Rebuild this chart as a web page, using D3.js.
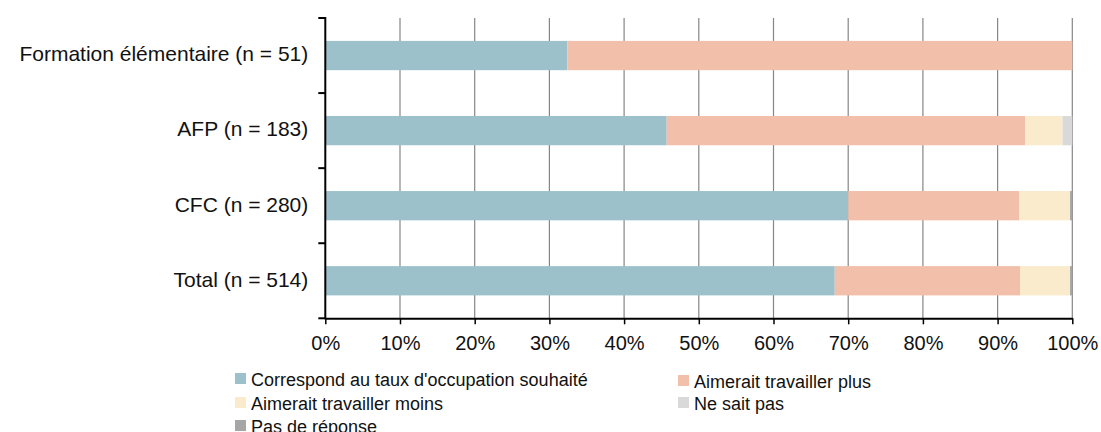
<!DOCTYPE html>
<html>
<head>
<meta charset="utf-8">
<script src="https://cdn.jsdelivr.net/npm/d3@7"></script>
<style>
  html, body { margin: 0; padding: 0; background: #fff; }
  svg { display: block; font-family: "Liberation Sans", Arial, sans-serif; }
</style>
</head>
<body>
<svg id="chart" width="1101" height="432"></svg>
<script>
// ---- data ----
const categories = ["Formation élémentaire (n = 51)", "AFP (n = 183)", "CFC (n = 280)", "Total (n = 514)"];
const seriesNames = ["Correspond au taux d'occupation souhaité", "Aimerait travailler plus", "Aimerait travailler moins", "Ne sait pas", "Pas de réponse"];
const correspond = [32.4, 45.7, 70.0, 68.2];
const plus       = [67.6, 48.0, 22.9, 24.8];
const moins      = [0.0, 5.0, 6.8, 6.7];
const neSaitPas  = [0.0, 1.3, 0.0, 0.0];
const pasReponse = [0.0, 0.0, 0.3, 0.3];
const xTicks = [0, 10, 20, 30, 40, 50, 60, 70, 80, 90, 100];
const colors = ["#9DC1CA", "#F2BFAB", "#FAEBCC", "#D9D9D9", "#A6A6A6"];

(function () {
const seriesValues = [correspond, plus, moins, neSaitPas, pasReponse];
const rows = categories.map((c, i) => {
  const r = { cat: c };
  seriesNames.forEach((s, j) => r[s] = seriesValues[j][i]);
  return r;
});

const svg = d3.select("#chart");
const pLeft = 325.3, pRight = 1072.3, pTop = 18, pBottom = 318.3;

const x = d3.scaleLinear().domain([0, 100]).range([pLeft, pRight]);
const y = d3.scaleBand().domain(categories).range([pTop, pBottom]).paddingInner(0.61).paddingOuter(0.305);

// gridlines
svg.append("g").selectAll("line").data(xTicks.filter(d => d > 0)).join("line")
  .attr("x1", d => x(d)).attr("x2", d => x(d))
  .attr("y1", pTop).attr("y2", pBottom)
  .attr("stroke", "#868686").attr("stroke-width", 1.2);

// bars
const stack = d3.stack().keys(seriesNames)(rows);
svg.append("g").selectAll("g").data(stack).join("g")
  .attr("fill", (d, i) => colors[i])
  .selectAll("rect").data(d => d).join("rect")
  .attr("x", d => x(d[0]))
  .attr("width", d => Math.max(0, x(d[1]) - x(d[0])))
  .attr("y", d => y(d.data.cat))
  .attr("height", y.bandwidth());

// x axis
const xAxis = svg.append("g").attr("transform", `translate(0,${pBottom})`)
  .call(d3.axisBottom(x).tickValues(xTicks).tickFormat(d => d + "%").tickSize(6).tickSizeOuter(0).tickPadding(12));
xAxis.select(".domain").attr("stroke", "#000").attr("stroke-width", 2);
xAxis.selectAll(".tick line").attr("stroke", "#000").attr("stroke-width", 1.5);
xAxis.selectAll(".tick text").attr("font-size", "20px").attr("fill", "#111")
  .attr("font-family", "'Liberation Sans', Arial, sans-serif");

// y axis with boundary ticks
const yAxisG = svg.append("g");
yAxisG.append("line").attr("x1", pLeft).attr("x2", pLeft).attr("y1", pTop - 1).attr("y2", pBottom + 1)
  .attr("stroke", "#000").attr("stroke-width", 2);
const bTicks = [pTop].concat(categories.slice(1).map(c => y(c) - (y.step() - y.bandwidth()) / 2)).concat([pBottom]);
yAxisG.selectAll("line.bt").data(bTicks).join("line").attr("class", "bt")
  .attr("x1", pLeft - 7).attr("x2", pLeft).attr("y1", d => d).attr("y2", d => d)
  .attr("stroke", "#000").attr("stroke-width", 2);
yAxisG.selectAll("text").data(categories).join("text")
  .attr("x", pLeft - 17)
  .attr("y", d => y(d) + y.bandwidth() / 2)
  .attr("dy", "0.28em")
  .attr("text-anchor", "end")
  .attr("font-size", "21px").attr("fill", "#111")
  .text(d => d);

// legend
const legendPos = [
  { x: 235, y: 373 }, { x: 678, y: 375 },
  { x: 235, y: 397 }, { x: 678, y: 397 },
  { x: 235, y: 420 }
];
const lg = svg.append("g").selectAll("g").data(seriesNames).join("g")
  .attr("transform", (d, i) => `translate(${legendPos[i].x},${legendPos[i].y})`);
lg.append("rect").attr("width", 11).attr("height", 11).attr("fill", (d, i) => colors[i]);
lg.append("text").attr("x", 16).attr("y", 12.5).attr("font-size", "18px").attr("fill", "#111").text(d => d);
})();
</script>
</body>
</html>
